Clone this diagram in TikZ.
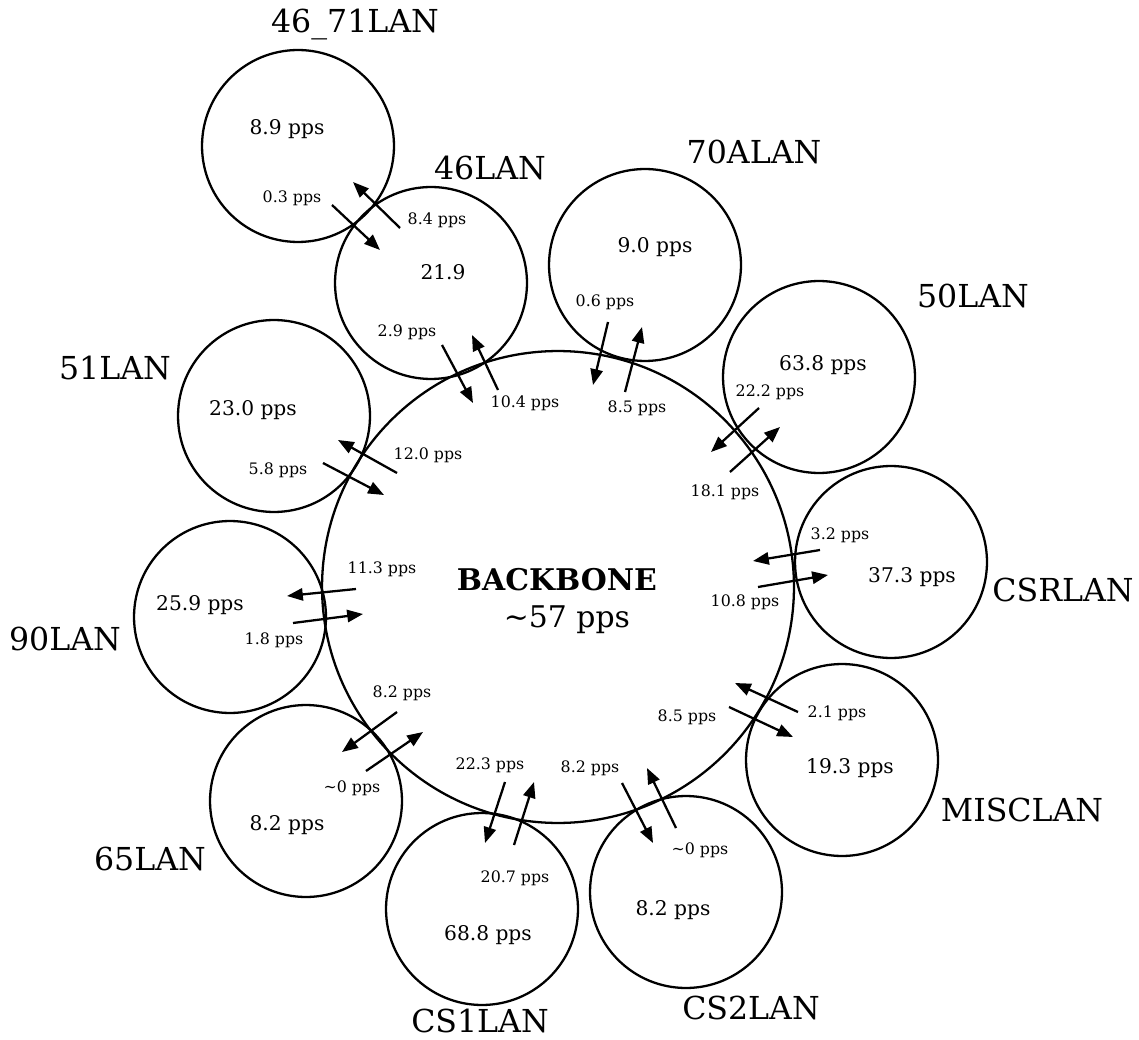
\documentclass[tikz,border=0pt]{standalone}
\usepackage{fontspec}
\setmainfont{DejaVu Serif}
\usetikzlibrary{arrows.meta}
\newcommand{\lanfont}  {\fontsize{18}{20}\selectfont}
\newcommand{\ratefont} {\fontsize{11.5}{13}\selectfont}
\newcommand{\ppsfont}  {\fontsize{9}{10}\selectfont}
\newcommand{\bonefont} {\fontsize{17}{21}\selectfont}

\begin{document}
\begin{tikzpicture}[x=0.02cm,y=-0.02cm,
   lan/.style={circle,draw,line width=1.3pt,minimum size=3.84cm,inner sep=0pt},
   bone/.style={lan,minimum size=9.44cm},
   flow/.style={-{Triangle[length=9pt,width=7pt]},line width=1.3pt},
   tag/.style={font=\lanfont,inner sep=1pt},
   rate/.style={font=\ratefont,inner sep=1pt},
   pps/.style={font=\ppsfont,inner sep=1pt}]
   \useasboundingbox (0,0) rectangle (1139,1040);
   % rings
   \node[bone] (bone)    at (558,587) {};
   \node[lan]  (lan4671) at (298,146) {};
   \node[lan]  (lan46)   at (431,283) {};
   \node[lan]  (lan70a)  at (645,265) {};
   \node[lan]  (lan50)   at (819,377) {};
   \node[lan]  (lancsr)  at (891,562) {};
   \node[lan]  (lanmisc) at (842,760) {};
   \node[lan]  (lancs2)  at (686,892) {};
   \node[lan]  (lancs1)  at (482,909) {};
   \node[lan]  (lan65)   at (306,801) {};
   \node[lan]  (lan90)   at (230,617) {};
   \node[lan]  (lan51)   at (274,416) {};
   % names
   \node[tag] (t4671) at (355,24)   {46\_71LAN};
   \node[tag] (t46)   at (490,168)  {46LAN};
   \node[tag] (t70a)  at (754,152)  {70ALAN};
   \node[tag] (t50)   at (973,296)  {50LAN};
   \node[tag] (tcsr)  at (1063,590) {CSRLAN};
   \node[tag] (tmisc) at (1022,810) {MISCLAN};
   \node[tag] (tcs2)  at (751,1008) {CS2LAN};
   \node[tag] (tcs1)  at (480,1021) {CS1LAN};
   \node[tag] (t65)   at (150,859)  {65LAN};
   \node[tag] (t90)   at (65,639)   {90LAN};
   \node[tag] (t51)   at (115,368)  {51LAN};
   % load of each ring
   \node[font=\bonefont,anchor=base] (bname) at (557,590) {\textbf{BACKBONE}};
   \node[font=\bonefont,anchor=base] (brate) at (567,627) {\textasciitilde57 pps};
   \node[rate] (r4671) at (287,129) {8.9 pps};
   \node[rate] (r46)   at (443,272) {21.9};
   \node[rate] (r70a)  at (655,247) {9.0 pps};
   \node[rate] (r50)   at (823,365) {63.8 pps};
   \node[rate] (rcsr)  at (912,577) {37.3 pps};
   \node[rate] (rmisc) at (850,768) {19.3 pps};
   \node[rate] (rcs2)  at (673,910) {8.2 pps};
   \node[rate] (rcs1)  at (488,935) {68.8 pps};
   \node[rate] (r65)   at (287,825) {8.2 pps};
   \node[rate] (r90)   at (200,605) {25.9 pps};
   \node[rate] (r51)   at (253,410) {23.0 pps};
   % where the rings meet
   \coordinate (k4671) at (366,216);
   \coordinate (k46)   at (471,368);
   \coordinate (k70a)  at (617,357);
   \coordinate (k50)   at (745,440);
   \coordinate (kcsr)  at (790,568);
   \coordinate (kmisc) at (764,710);
   \coordinate (kcs2)  at (650,806);
   \coordinate (kcs1)  at (510,813);
   \coordinate (k65)   at (382,742);
   \coordinate (k90)   at (325,605);
   \coordinate (k51)   at (361,468);
   % flows across each meeting point
   \draw[flow] (k4671) ++(-34,-11) -- ++(48,45);
   \draw[flow] (k4671) ++(34,12)   -- ++(-47,-46);
   \draw[flow] (k46)   ++(-29,-23) -- ++(31,58);
   \draw[flow] (k46)   ++(27,22)   -- ++(-26,-55);
   \draw[flow] (k70a)  ++(-9,-35)  -- ++(-15,63);
   \draw[flow] (k70a)  ++(8,35)    -- ++(17,-65);
   \draw[flow] (k50)   ++(14,-32)  -- ++(-48,44);
   \draw[flow] (k50)   ++(-15,32)  -- ++(50,-45);
   \draw[flow] (kcsr)  ++(30,-18)  -- ++(-67,11);
   \draw[flow] (kcsr)  ++(-32,19)  -- ++(70,-12);
   \draw[flow] (kmisc) ++(34,2)    -- ++(-63,-29);
   \draw[flow] (kmisc) ++(-35,-3)  -- ++(64,30);
   \draw[flow] (kcs2)  ++(-28,-23) -- ++(31,60);
   \draw[flow] (kcs2)  ++(26,22)   -- ++(-29,-60);
   \draw[flow] (kcs1)  ++(-5,-31)  -- ++(-20,61);
   \draw[flow] (kcs1)  ++(4,32)    -- ++(20,-63);
   \draw[flow] (k65)   ++(15,-30)  -- ++(-55,40);
   \draw[flow] (k65)   ++(-16,29)  -- ++(57,-39);
   \draw[flow] (k90)   ++(31,-16)  -- ++(-69,7);
   \draw[flow] (k90)   ++(-32,18)  -- ++(70,-9);
   \draw[flow] (k51)   ++(36,5)    -- ++(-59,-33);
   \draw[flow] (k51)   ++(-38,-5)  -- ++(61,32);
   % flow rates
   \node[pps] (p4671o) at (292,198) {0.3 pps};
   \node[pps] (p4671i) at (437,220) {8.4 pps};
   \node[pps] (p46o)   at (407,332) {2.9 pps};
   \node[pps] (p46i)   at (525,403) {10.4 pps};
   \node[pps] (p70ao)  at (605,302) {0.6 pps};
   \node[pps] (p70ai)  at (637,408) {8.5 pps};
   \node[pps] (p50o)   at (770,392) {22.2 pps};
   \node[pps] (p50i)   at (725,492) {18.1 pps};
   \node[pps] (pcsro)  at (840,535) {3.2 pps};
   \node[pps] (pcsri)  at (745,602) {10.8 pps};
   \node[pps] (pmisco) at (837,713) {2.1 pps};
   \node[pps] (pmisci) at (687,717) {8.5 pps};
   \node[pps] (pcs2i)  at (590,768) {8.2 pps};
   \node[pps] (pcs2o)  at (700,850) {\textasciitilde0 pps};
   \node[pps] (pcs1i)  at (490,765) {22.3 pps};
   \node[pps] (pcs1o)  at (515,878) {20.7 pps};
   \node[pps] (p65i)   at (402,693) {8.2 pps};
   \node[pps] (p65o)   at (352,788) {\textasciitilde0 pps};
   \node[pps] (p90i)   at (382,569) {11.3 pps};
   \node[pps] (p90o)   at (274,640) {1.8 pps};
   \node[pps] (p51i)   at (428,455) {12.0 pps};
   \node[pps] (p51o)   at (278,470) {5.8 pps};
\end{tikzpicture}
\end{document}
